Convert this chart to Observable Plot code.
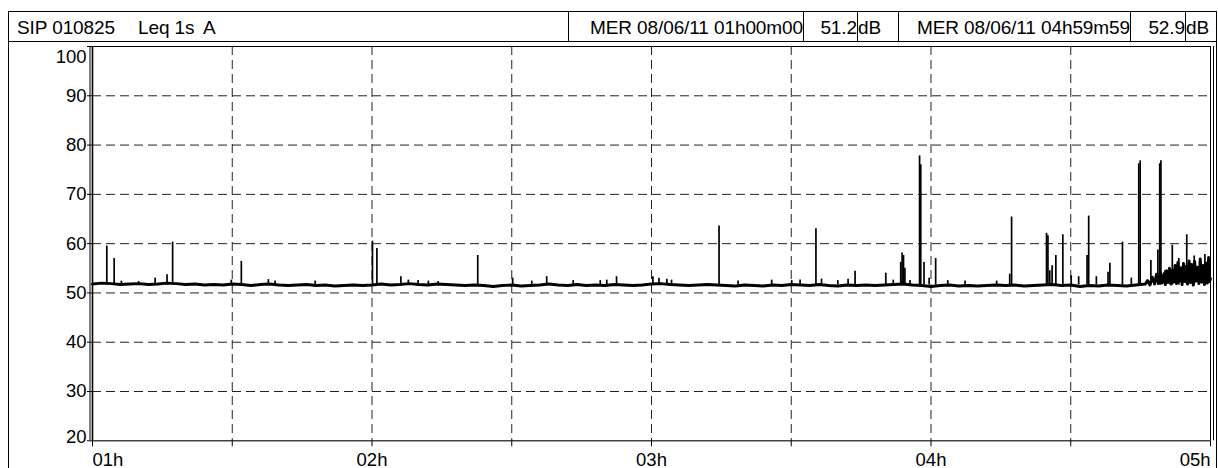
<!DOCTYPE html>
<html><head><meta charset="utf-8">
<script src="https://cdn.jsdelivr.net/npm/d3@7"></script>
<script src="https://cdn.jsdelivr.net/npm/@observablehq/plot@0.6"></script>
<style>
html,body{margin:0;padding:0;background:#fff;}
body{width:1218px;height:468px;overflow:hidden;position:relative;font-family:"Liberation Sans",Arial,sans-serif;color:#000;}
#frame{position:absolute;left:8px;top:11px;width:1207px;height:470px;border:1px solid #000;border-bottom:none;}
#header{position:absolute;left:0;top:0;width:1207px;height:29px;border-bottom:1px solid #000;font-size:19px;letter-spacing:-0.1px;}
#header .t{position:absolute;top:6px;line-height:19px;white-space:pre;}
.box{position:absolute;top:0;height:29px;box-sizing:border-box;border-left:1px solid #000;padding-top:6px;line-height:19px;white-space:pre;overflow:visible;}
.r{text-align:right;}
.l{text-align:left;}
#chart{position:absolute;left:0;top:30px;}
</style>
</head><body>
<div id="frame">
  <div id="header"></div>
  <div id="chart"></div>
</div>
<script>
// ---- header texts ----
const headerTitle = "SIP 010825";
const headerMeasure = "Leq 1s";
const headerWeighting = "A";
const startStamp = "MER 08/06/11 01h00m00";
const startLevel = "51.2";
const endStamp = "MER 08/06/11 04h59m59";
const endLevel = "52.9";
const levelUnit = "dB";

// ---- axes ----
const hourTicks = [0, 60, 120, 180, 240];            // minutes after 01h00
const hourLabels = ["01h", "02h", "03h", "04h", "05h"];
const halfHourTicks = [0, 30, 60, 90, 120, 150, 180, 210, 240];
const gridMinutes = [30, 60, 90, 120, 150, 180, 210];
const levelTicks = [20, 30, 40, 50, 60, 70, 80, 90, 100];
const gridLevels = [30, 40, 50, 60, 70, 80, 90];

// ---- background level trace [minute, dB] ----
const trace = [
 [0,51.8],[2,52.0],[4,51.9],[6,51.7],[8,51.8],[10,51.9],[12,51.7],[14,51.8],[16,52.0],[18,51.9],
 [20,51.7],[22,51.8],[24,51.6],[26,51.7],[28,51.6],[30,51.8],[32,51.7],[34,51.5],[36,51.7],[38,51.8],
 [40,51.6],[42,51.5],[44,51.6],[46,51.7],[48,51.5],[50,51.6],[52,51.4],[54,51.5],[56,51.6],[58,51.5],
 [60,51.6],[62,51.8],[64,51.6],[66,51.7],[68,51.9],[70,51.7],[72,51.6],[74,51.8],[76,51.7],[78,51.6],
 [80,51.5],[82,51.6],[84,51.5],[86,51.3],[88,51.5],[90,51.6],[92,51.4],[94,51.5],[96,51.6],[98,51.8],
 [100,51.6],[102,51.5],[104,51.7],[106,51.5],[108,51.6],[110,51.5],[112,51.7],[114,51.6],[116,51.5],[118,51.6],
 [120,51.8],[122,51.9],[124,51.7],[126,51.6],[128,51.5],[130,51.6],[132,51.7],[134,51.6],[136,51.5],[138,51.4],
 [140,51.6],[142,51.5],[144,51.4],[146,51.6],[148,51.5],[150,51.7],[152,51.6],[154,51.5],[156,51.7],[158,51.5],
 [160,51.4],[162,51.6],[164,51.5],[166,51.6],[168,51.5],[170,51.6],[172,51.7],[174,51.8],[176,51.6],[178,51.5],
 [180,51.3],[182,51.5],[184,51.6],[186,51.4],[188,51.5],[190,51.4],[192,51.5],[194,51.6],[196,51.5],[198,51.6],
 [200,51.4],[202,51.5],[204,51.6],[206,51.7],[208,51.5],[210,51.6],[212,51.3],[214,51.5],[216,51.4],[218,51.6],
 [220,51.5],[222,51.4],[224,51.6],[226,51.8],
 [226.5,52.5],[227,51.6],[227.5,53.2],[228,51.8],[228.4,53.8],[228.8,51.9],[229.2,54.2],[229.6,52.0],
 [230.0,53.9],[230.3,51.7],[230.6,54.5],[230.9,52.1],[231.2,55.0],[231.5,51.8],[231.8,54.6],[232.1,52.2],
 [232.4,55.6],[232.7,51.9],[233.0,56.2],[233.3,52.4],[233.6,55.1],[233.9,51.7],[234.2,56.0],[234.5,52.3],
 [234.8,55.4],[235.1,51.8],[235.4,56.5],[235.7,52.1],[236.0,55.8],[236.3,51.6],[236.6,56.4],[236.9,52.4],
 [237.2,55.2],[237.5,51.9],[237.8,56.9],[238.1,52.2],[238.4,55.6],[238.7,51.7],[239.0,56.1],[239.3,52.0],
 [239.6,57.2],[239.8,52.3],[240,52.9]
];

// ---- short events (peaks), minute and dB ----
const spikeMinutes = [3.07,4.65,6.2,9.9,13.45,16.0,17.2,29.8,31.95,37.75,39.2,47.8,60.1,61.05,66.2,67.8,69.9,72.1,74.2,
 82.7,90.2,94.3,97.5,103.2,109.0,110.4,112.5,120.3,121.6,123.3,124.3,134.5,138.6,145.8,150.1,151.9,155.3,156.5,
 160.0,162.2,163.7,170.3,171.9,173.5,173.8,174.1,174.4,175.5,177.55,177.8,178.5,179.6,181.0,183.6,187.3,194.1,
 196.9,197.3,204.8,205.1,205.5,206.0,206.8,208.3,210.1,211.7,213.5,213.85,215.5,218.0,218.4,221.1,223.0,
 224.6,224.9,227.2,228.7,229.1,229.35,230.2,231.8,233.2,234.9,236.5,238.8];
const spikeLevels = [59.5,57.0,52.4,52.3,53.0,53.7,60.3,52.6,56.4,52.7,52.4,52.4,60.5,59.0,53.3,52.6,52.5,52.4,52.3,
 57.6,53.0,52.4,53.3,52.5,52.5,52.6,53.3,53.3,53.0,52.8,52.6,63.6,52.4,52.6,52.5,52.6,63.0,52.8,
 52.5,52.8,54.4,54.0,52.6,56.2,58.1,57.6,55.0,52.5,77.8,76.0,56.2,53.0,57.0,52.5,52.4,52.4,
 53.8,65.4,62.1,61.6,54.5,55.5,57.6,61.8,53.5,53.3,57.6,65.6,53.3,54.2,56.0,60.3,53.0,
 76.2,76.8,56.6,58.7,76.2,76.8,54.5,59.7,57.0,61.8,57.5,57.8];

// ---- header ----
const header = document.getElementById("header");
function addText(cls, left, width, text) {
  const d = document.createElement("div");
  d.className = cls;
  d.style.left = left + "px";
  if (width != null) d.style.width = width + "px";
  d.textContent = text;
  header.appendChild(d);
}
addText("t", 8, null, headerTitle);
addText("t", 129, null, headerMeasure);
addText("t", 194, null, headerWeighting);
addText("box r", 559, 235, startStamp);
addText("box r", 794, 54, startLevel);
addText("box l", 848, 41, levelUnit);
addText("box r", 889, 232, endStamp);
addText("box r", 1121, 55, endLevel);
addText("box l", 1176, 31, levelUnit);

// ---- chart ----
const traceTable = trace.map(([t, level]) => ({t, level}));
const spikeTable = spikeMinutes.map((t, i) => ({t, level: spikeLevels[i]}));
const hourTable = hourTicks.map((t, i) => ({t, label: hourLabels[i]}));
const grid = {stroke: "#222", strokeWidth: 1, strokeDasharray: "9,5"};

const chart = Plot.plot({
  width: 1207,
  height: 426,
  marginLeft: 83,
  marginRight: 6,
  marginTop: 4,
  marginBottom: 27.7,
  x: {domain: [0, 240], axis: null},
  y: {domain: [20, 100], axis: null},
  style: {fontFamily: "'Liberation Sans', Arial, sans-serif", fontSize: "18.5px", color: "#000", background: "transparent", overflow: "visible"},
  marks: [
    Plot.ruleY(gridLevels, grid),
    Plot.ruleX(gridMinutes, grid),
    Plot.ruleX(spikeTable, {x: "t", y1: 51.6, y2: "level", stroke: "#000", strokeWidth: 1.7}),
    Plot.line(traceTable, {x: "t", y: "level", stroke: "#000", strokeWidth: 2.9, strokeLinejoin: "round"}),
    // frame
    Plot.ruleY([100], {stroke: "#000", strokeWidth: 1}),
    Plot.ruleY([20], {stroke: "#444", strokeWidth: 1.5}),
    Plot.ruleX([0], {stroke: "#000", strokeWidth: 1.6}),
    Plot.ruleX([0], {stroke: "#000", strokeWidth: 1, dx: -2.5}),
    Plot.ruleX([240], {stroke: "#000", strokeWidth: 1}),
    Plot.ruleX([240], {stroke: "#000", strokeWidth: 1, dx: 3}),
    // ticks
    Plot.axisX(halfHourTicks, {tickSize: 6, tickFormat: () => "", label: null, stroke: "#000"}),
    Plot.axisY(levelTicks, {tickSize: 5, tickFormat: () => "", label: null, stroke: "#000"}),
    // y labels
    Plot.text(levelTicks.filter(v => v > 20 && v < 100), {y: d => d, text: d => String(d), frameAnchor: "left", textAnchor: "end", dx: -6}),
    Plot.text([100], {y: d => d, text: d => String(d), frameAnchor: "left", textAnchor: "end", dx: -6, dy: 11}),
    Plot.text([20], {y: d => d, text: d => String(d), frameAnchor: "left", textAnchor: "end", dx: -6, dy: -4}),
    // x labels
    Plot.text(hourTable.slice(0, 1), {x: "t", text: "label", frameAnchor: "bottom", lineAnchor: "top", textAnchor: "start", dy: 12}),
    Plot.text(hourTable.slice(1, 4), {x: "t", text: "label", frameAnchor: "bottom", lineAnchor: "top", textAnchor: "middle", dy: 12}),
    Plot.text(hourTable.slice(4), {x: "t", text: "label", frameAnchor: "bottom", lineAnchor: "top", textAnchor: "end", dy: 12})
  ]
});
document.getElementById("chart").appendChild(chart);
</script>
</body></html>
